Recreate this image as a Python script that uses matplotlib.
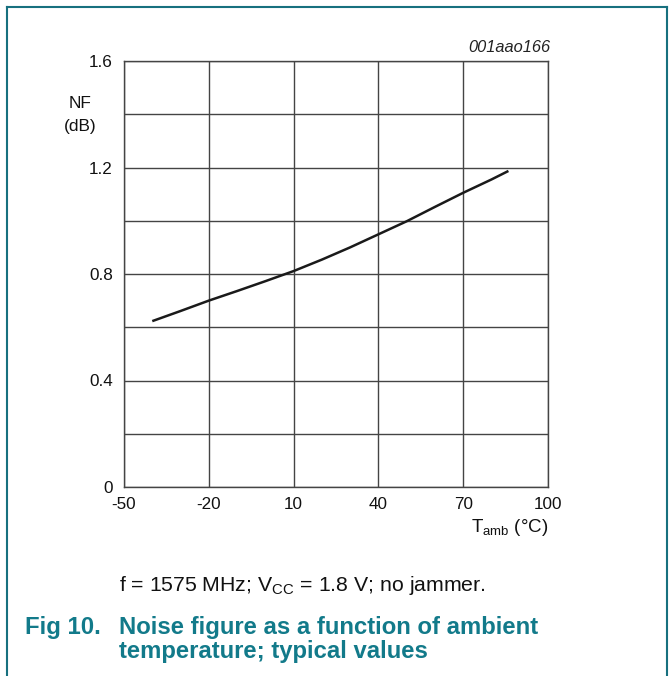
import matplotlib
matplotlib.use("Agg")
import matplotlib.pyplot as plt
from matplotlib.lines import Line2D

plt.rcParams['font.family'] = ['Liberation Sans', 'DejaVu Sans']
plt.rcParams['mathtext.fontset'] = 'custom'
plt.rcParams['mathtext.rm'] = 'Liberation Sans'

temp = [-40, -30, -20, -10, 0, 10, 20, 30, 40, 50, 60, 70, 80, 86]
nf = [0.623, 0.661, 0.700, 0.736, 0.773, 0.811, 0.854, 0.900, 0.949, 0.998, 1.052, 1.105, 1.155, 1.187]
xticks = [-50, -20, 10, 40, 70, 100]
xtick_labels = ['-50', '-20', '10', '40', '70', '100']
ygrid = [0, 0.2, 0.4, 0.6, 0.8, 1.0, 1.2, 1.4, 1.6]
ytick_labels = {0: '0', 0.4: '0.4', 0.8: '0.8', 1.2: '1.2', 1.6: '1.6'}

W, H = 669, 676
fig = plt.figure(figsize=(W/100, H/100), dpi=100)
teal = '#17707f'
title_col = '#127a8a'
txt = '#111111'

# page frame
fig.add_artist(Line2D([7/W, 7/W], [0, 1-7/H], color=teal, lw=1.5))
fig.add_artist(Line2D([7/W, 667/W], [1-7/H, 1-7/H], color=teal, lw=1.5))
fig.add_artist(Line2D([667/W, 667/W], [0, 1-7/H], color=teal, lw=1.5))

ax = fig.add_axes([124/W, 1-487/H, 424/W, 426/H])
ax.plot(temp, nf, color='#1a1a1a', lw=1.8, solid_capstyle='butt', zorder=3)
ax.set_xlim(-50, 100)
ax.set_ylim(0, 1.6)
ax.set_xticks(xticks)
ax.set_xticklabels(xtick_labels)
ax.set_yticks(ygrid)
ax.set_yticklabels([ytick_labels.get(round(v, 1), '') for v in ygrid])
ax.tick_params(length=0, labelsize=12.3, colors=txt)
ax.tick_params(axis='y', pad=8)
ax.tick_params(axis='x', pad=7)
for v in xticks:
    ax.axvline(v, color='#444444', lw=1.0, zorder=1)
for v in ygrid:
    ax.axhline(v, color='#444444', lw=1.0, zorder=1)
for s in ax.spines.values():
    s.set_color('#444444')
    s.set_linewidth(1.0)

fig.text(80/W, 1-103/H, 'NF', ha='center', va='center', fontsize=12.4, color=txt)
fig.text(80/W, 1-127/H, '(dB)', ha='center', va='center', fontsize=12.4, color=txt)
fig.text(548/W, 1-532/H, r'T$_{\mathregular{amb}}$ (°C)', ha='right', va='baseline', fontsize=13.5, color=txt)
fig.text(550/W, 1-48/H, '001aao166', ha='right', va='center', fontsize=11.8, style='italic', color='#222222')

fig.text(119/W, 1-591/H, r'f = 1575 MHz; V$_{\mathregular{CC}}$ = 1.8 V; no jammer.', ha='left', va='baseline', fontsize=15.3, color=txt)
fig.text(25/W, 1-634/H, 'Fig 10.', ha='left', va='baseline', fontsize=17.2, fontweight='bold', color=title_col)
fig.text(119/W, 1-634/H, 'Noise figure as a function of ambient', ha='left', va='baseline', fontsize=17.2, fontweight='bold', color=title_col)
fig.text(119/W, 1-658/H, 'temperature; typical values', ha='left', va='baseline', fontsize=17.2, fontweight='bold', color=title_col)

fig.savefig('out.png', dpi=100)
